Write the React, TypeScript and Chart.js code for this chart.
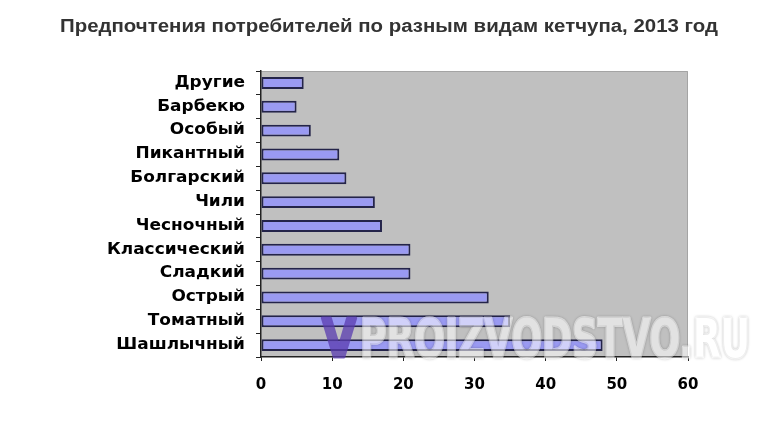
import React, { useEffect, useRef } from "react";
import { Chart, registerables } from "chart.js";

Chart.register(...registerables);

const categories = [
  "Другие",
  "Барбекю",
  "Особый",
  "Пикантный",
  "Болгарский",
  "Чили",
  "Чесночный",
  "Классический",
  "Сладкий",
  "Острый",
  "Томатный",
  "Шашлычный",
];
const values = [6, 5, 7, 11, 12, 16, 17, 21, 21, 32, 35, 48];
const titleText = "Предпочтения потребителей по разным видам кетчупа, 2013 год";
const watermarkV = "V";
const watermarkText = "PROIZVODSTVO.RU";

const LABEL_FONT = "bold 15px 'DejaVu Sans', Verdana, sans-serif";

const plotBg = {
  id: "plotBg",
  beforeDraw(chart: any) {
    const { ctx, chartArea: a } = chart;
    ctx.save();
    ctx.fillStyle = "#c0c0c0";
    ctx.fillRect(a.left, a.top, a.right - a.left, a.bottom - a.top);
    ctx.strokeStyle = "#a4a4a4";
    ctx.lineWidth = 1;
    ctx.beginPath();
    ctx.moveTo(a.left, a.top + 0.5);
    ctx.lineTo(a.right - 0.5, a.top + 0.5);
    ctx.lineTo(a.right - 0.5, a.bottom);
    ctx.stroke();
    ctx.restore();
  },
};

const titlePlugin = {
  id: "stretchedTitle",
  afterDraw(chart: any) {
    const { ctx } = chart;
    ctx.save();
    ctx.font = "bold 18px 'Liberation Sans', Arial, sans-serif";
    ctx.fillStyle = "#333333";
    ctx.textBaseline = "alphabetic";
    const w = ctx.measureText(titleText).width;
    const left = 60;
    const target = 658;
    ctx.translate(left, 32);
    ctx.scale(target / w, 1);
    ctx.fillText(titleText, 0, 0);
    ctx.restore();
  },
};

const yLabels = {
  id: "yLabels",
  afterDraw(chart: any) {
    const { ctx } = chart;
    const y = chart.scales.y;
    ctx.save();
    ctx.font = LABEL_FONT;
    ctx.fillStyle = "#000000";
    ctx.textBaseline = "middle";
    const sx = 1.13;
    const right = 245;
    categories.forEach((c, i) => {
      const py = y.getPixelForTick(i);
      const w = ctx.measureText(c).width * sx;
      ctx.save();
      ctx.translate(right - w, py);
      ctx.scale(sx, 1);
      ctx.fillText(c, 0, 0);
      ctx.restore();
    });
    ctx.restore();
  },
};

const watermark = {
  id: "watermark",
  afterDraw(chart: any) {
    const { ctx } = chart;
    const W = 768;
    const H = 425;
    const off = document.createElement("canvas");
    off.width = W;
    off.height = H;
    const o = off.getContext("2d") as CanvasRenderingContext2D;
    o.font = "bold 54px 'DejaVu Sans Condensed', 'Liberation Sans Narrow', sans-serif";
    o.textBaseline = "alphabetic";
    o.lineJoin = "round";
    const base = 357;
    const tw = o.measureText(watermarkText).width;
    o.save();
    o.translate(360, base);
    o.scale((750 - 360) / tw, 1.0);
    o.shadowColor = "rgba(0,0,0,0.35)";
    o.shadowBlur = 3;
    o.fillStyle = "#ffffff";
    o.strokeStyle = "#ffffff";
    o.lineWidth = 3;
    o.strokeText(watermarkText, 0, 0);
    o.fillText(watermarkText, 0, 0);
    o.restore();
    ctx.save();
    ctx.globalAlpha = 0.55;
    ctx.drawImage(off, 0, 0);
    ctx.restore();

    const off2 = document.createElement("canvas");
    off2.width = W;
    off2.height = H;
    const p = off2.getContext("2d") as CanvasRenderingContext2D;
    p.font = o.font;
    p.lineJoin = "round";
    const vw = p.measureText(watermarkV).width;
    p.translate(322, base);
    p.scale(34 / vw, 1);
    p.fillStyle = "#5a3cb0";
    p.strokeStyle = "#5a3cb0";
    p.lineWidth = 3;
    p.strokeText(watermarkV, 0, 0);
    p.fillText(watermarkV, 0, 0);
    ctx.save();
    ctx.globalAlpha = 0.75;
    ctx.drawImage(off2, 0, 0);
    ctx.restore();
  },
};

export default function App() {
  const ref = useRef<HTMLCanvasElement>(null);
  useEffect(() => {
    if (!ref.current) return;
    const chart = new Chart(ref.current, {
      type: "bar",
      data: {
        labels: categories,
        datasets: [
          {
            data: values,
            backgroundColor: "#9a9af2",
            borderColor: "#24244a",
            borderWidth: 2,
            borderSkipped: false,
            barPercentage: 0.5,
            categoryPercentage: 1,
          },
        ],
      },
      options: {
        indexAxis: "y",
        animation: false,
        responsive: false,
        layout: { padding: { left: 0, right: 80, top: 71, bottom: 0 } },
        plugins: {
          legend: { display: false },
          tooltip: { enabled: false },
          title: { display: false },
        },
        scales: {
          x: {
            min: 0,
            max: 60,
            ticks: {
              stepSize: 10,
              color: "#000000",
              font: { family: "'DejaVu Sans', Verdana, sans-serif", size: 15, weight: "bold" },
              padding: 15,
            },
            grid: {
              drawOnChartArea: false,
              drawTicks: true,
              tickLength: 4,
              color: "#222222",
            },
            border: { display: true, color: "#222222", width: 1.5 },
            afterFit(scale: any) {
              scale.height = 425 - 357;
            },
          },
          y: {
            ticks: { display: false },
            grid: {
              offset: true,
              drawOnChartArea: false,
              drawTicks: true,
              tickLength: 5,
              color: "#222222",
            },
            border: { display: true, color: "#222222", width: 1.5 },
            afterFit(scale: any) {
              scale.width = 261;
            },
          },
        },
      },
      plugins: [plotBg, titlePlugin, yLabels, watermark],
    });
    return () => chart.destroy();
  }, []);
  return (
    <div style={{ position: "fixed", left: 0, top: 0, width: 768, height: 425, background: "#ffffff" }}>
      <canvas ref={ref} width={768} height={425} style={{ width: 768, height: 425, display: "block" }} />
    </div>
  );
}
